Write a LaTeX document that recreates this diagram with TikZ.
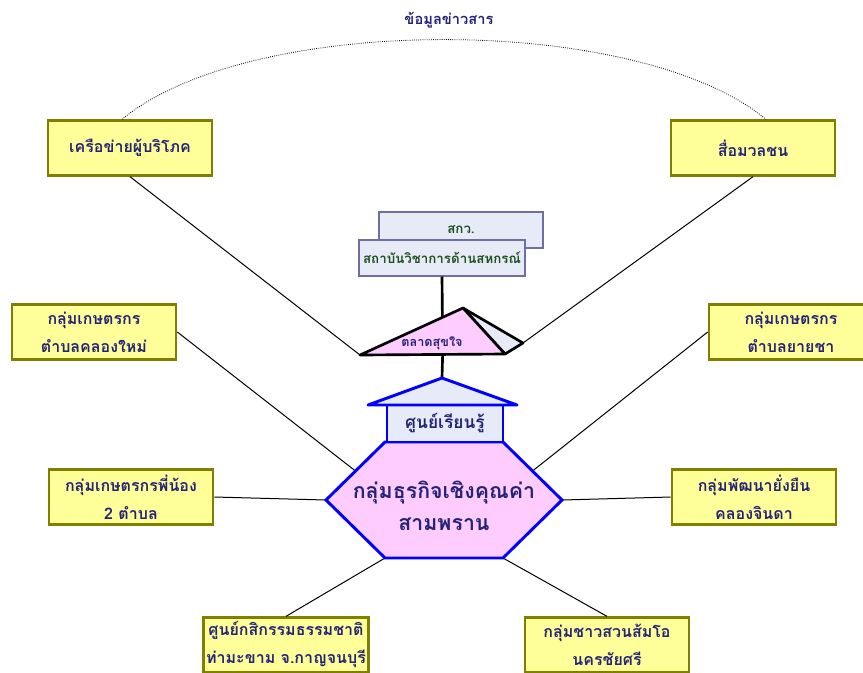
\documentclass[tikz,border=0pt]{standalone}
\usepackage{fontspec}
\setmainfont[Script=Thai]{Loma}
\usetikzlibrary{calc}
\definecolor{navytext}{RGB}{35,35,120}
\definecolor{greentext}{RGB}{30,80,30}
\definecolor{boxfill}{RGB}{255,255,153}
\definecolor{boxline}{RGB}{128,128,0}
\definecolor{pinkfill}{RGB}{255,204,255}
\definecolor{paleblue}{RGB}{230,235,247}
\definecolor{slateline}{RGB}{110,110,160}
\begin{document}
\begin{tikzpicture}[x=0.75pt,y=-0.75pt,
    partner/.style={draw=boxline,fill=boxfill,line width=2pt,minimum width=123pt,minimum height=41pt,
        align=center,inner sep=2pt,text=navytext,font=\bfseries\fontsize{12}{21}\selectfont},
    instbox/.style={draw=slateline,fill=paleblue,line width=1.5pt,minimum width=123pt,minimum height=27pt,
        text=greentext,font=\bfseries\fontsize{10}{12}\selectfont},
    link/.style={line width=0.75pt}]
            \useasboundingbox (0,0) rectangle (863,672);

            \node[text=navytext,font=\bfseries\fontsize{11}{13}\selectfont] (info) at (449,20) {ข้อมูลข่าวสาร};

            \node[partner] (cons) at (130,148) {เครือข่ายผู้บริโภค};
            \node[partner] (media) at (753,148) {สื่อมวลชน};
            \node[partner] (klongmai) at (94,332) {กลุ่มเกษตรกร\\ตำบลคลองใหม่};
            \node[partner] (yaicha) at (791,332) {กลุ่มเกษตรกร\\ตำบลยายชา};
            \node[partner] (phinong) at (131,497) {กลุ่มเกษตรกรพี่น้อง\\2 ตำบล};
            \node[partner] (jinda) at (754,497) {กลุ่มพัฒนายั่งยืน\\คลองจินดา};
            \node[partner] (makham) at (286,645) {ศูนย์กสิกรรมธรรมชาติ\\ท่ามะขาม จ.กาญจนบุรี};
            \node[partner] (somo) at (607,645) {กลุ่มชาวสวนส้มโอ\\นครชัยศรี};

            \coordinate (hL) at (326,500);
            \coordinate (hTL) at (385,442);
            \coordinate (hTR) at (503,442);
            \coordinate (hR) at (562,500);
            \coordinate (hBR) at (503,558);
            \coordinate (hBL) at (385,558);

            \coordinate (pa) at (463,308);
            \coordinate (pl) at (360,355);
            \coordinate (pr) at (505,354);
            \coordinate (pb) at (523,343);
            \coordinate (roof) at (442,378);

            \draw[densely dotted,line width=0.6pt] ($(cons.north)+(-8,0)$) .. controls (250,13) and (638,13) .. ($(media.north)+(13,0)$);

            \draw[link] (cons.south) -- (pl);
            \draw[link] (media.south) -- (pb);
            \draw[link] (klongmai.east) -- ($(hL)!0.5!(hTL)$);
            \draw[link] (yaicha.west) -- ($(hR)!0.5!(hTR)$);
            \draw[link] (phinong.east) -- (hL);
            \draw[link] (jinda.west) -- (hR);
            \draw[link] (makham.north) -- (hBL);
            \draw[link] (somo.north) -- (hBR);

            \node[instbox] (kv) at (461,230) {สกว.};
            \node[instbox] (inst) at (442,257.5) {สถาบันวิชาการด้านสหกรณ์};
            \draw[line width=2pt] (inst.south) -- ($(pl)!0.8!(pa)$);

            \filldraw[fill=paleblue,line width=2pt,line join=round] (pa) -- (pb) -- (pr) -- cycle;
            \filldraw[fill=pinkfill,line width=2pt,line join=round] (pl) -- (pa) -- (pr) -- cycle;
            \node[text=navytext,font=\bfseries\fontsize{9.5}{11}\selectfont] (market) at (432,343) {ตลาดสุขใจ};
            \draw[line width=2pt] ($(pl)!0.57!(pr)$) -- (roof);

            \filldraw[fill=pinkfill,draw=blue,line width=2.2pt] (hL) -- (hTL) -- (hTR) -- (hR) -- (hBR) -- (hBL) -- cycle;
            \node[align=center,text=navytext,font=\bfseries\fontsize{16}{24}\selectfont] (core) at (444,506) {กลุ่มธุรกิจเชิงคุณค่า\\สามพราน};

            \node[draw=blue,fill=paleblue,line width=2.2pt,minimum width=87pt,minimum height=27.75pt,
                text=navytext,font=\bfseries\fontsize{13}{15}\selectfont] (learn) at (445,423.5) {ศูนย์เรียนรู้};
            \filldraw[fill=paleblue,draw=blue,line width=2.2pt,line join=round] (368,405) -- (roof) -- (517,405) -- cycle;
        \end{tikzpicture}
\end{document}
